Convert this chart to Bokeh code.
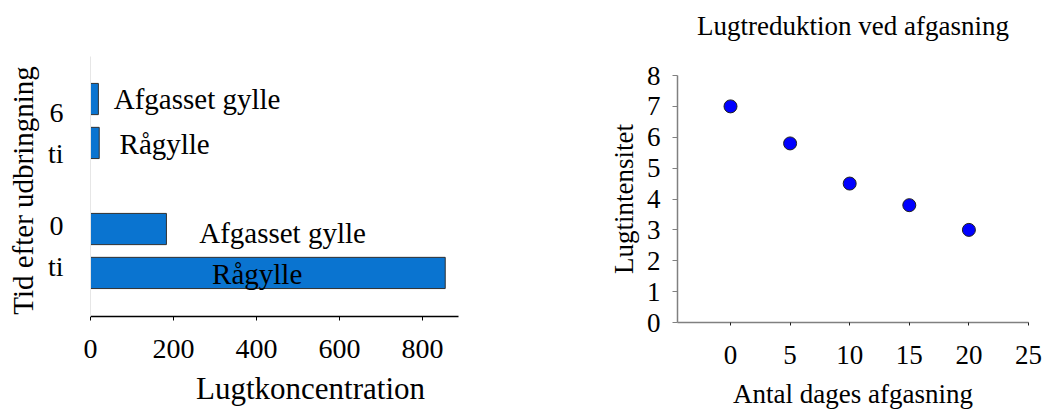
import math
from bokeh.plotting import figure
from bokeh.layouts import row
from bokeh.models import Range1d, FixedTicker, ColumnDataSource, Label
from bokeh.core.properties import value
from bokeh.embed import file_html
from bokeh.resources import INLINE

# ---------------- data ----------------
# left chart: odour concentration after spreading
time_labels = ["0\nti", "6\nti"]          # category tick labels (bottom -> top)
raagylle = [855, 21]                      # Rågylle
afgasset = [183, 19]                      # Afgasset gylle
series_names = ["Rågylle", "Afgasset gylle"]
x_ticks_left = [0, 200, 400, 600, 800]
x_max_left = 887

# right chart: odour reduction by degassing
days = [0, 5, 10, 15, 20]
intensity = [7.0, 5.8, 4.5, 3.8, 3.0]
x_ticks_right = [0, 5, 10, 15, 20, 25]
y_ticks_right = [0, 1, 2, 3, 4, 5, 6, 7, 8]
x_min_right, x_max_right = -4.45, 25

FONT = "Liberation Serif"
BAR_COLOR = "#0a74d0"
H = 410

# ---------------- left chart (frame = whole canvas, axes at fixed locations) ----
LW = 600
lx0, lx1 = 90, 458          # pixel of x=0 and x=x_max_left
ly0, ly1 = 316, 56          # pixel (from top) of y=0 and y=2
sx = (lx1 - lx0) / x_max_left
sy = (ly0 - ly1) / 2.0
left = figure(width=LW, height=H, output_backend="svg", toolbar_location=None,
              title=None,
              x_range=Range1d(-lx0 / sx, x_max_left + (LW - lx1) / sx),
              y_range=Range1d(-(H - ly0) / sy, 2 + ly1 / sy),
              min_border=0, outline_line_color=None)
left.grid.visible = False
left.background_fill_color = "white"
left.border_fill_color = "white"

offsets = {"Rågylle": 0.335, "Afgasset gylle": 0.673}
bar_h = 0.24
cat_label_pos = [0.545, 1.41]
label_x = {"Rågylle": [293, 70], "Afgasset gylle": [262, 56]}
label_dy = {"Rågylle": [-0.005, -0.008], "Afgasset gylle": [-0.027, 0.002]}

for name, vals in zip(series_names, [raagylle, afgasset]):
    ys = [i + offsets[name] for i in range(len(vals))]
    src = ColumnDataSource(dict(y=ys, right=vals, left=[0] * len(vals)))
    left.hbar(y="y", left="left", right="right", height=bar_h, source=src,
              fill_color=BAR_COLOR, line_color="#303030", line_width=1)
    lsrc = ColumnDataSource(dict(x=label_x[name],
                                 y=[y + d for y, d in zip(ys, label_dy[name])],
                                 t=[name] * len(vals)))
    left.text(x="x", y="y", text="t", source=lsrc, text_font=value(FONT),
              text_font_size="29px", text_baseline="middle", text_align="left",
              text_color="black")

xa = left.xaxis[0]
xa.fixed_location = 0
xa.bounds = (0, x_max_left)
xa.ticker = FixedTicker(ticks=x_ticks_left)
xa.minor_tick_line_color = None
xa.major_tick_out = 4
xa.major_tick_in = 0
xa.axis_line_color = "black"
xa.axis_line_width = 1.5
xa.major_tick_line_color = "black"
xa.major_label_text_font = FONT
xa.major_label_text_font_size = "28px"
xa.major_label_text_color = "black"
xa.major_label_standoff = 19

ya = left.yaxis[0]
ya.fixed_location = 0
ya.bounds = (0, 2)
ya.ticker = FixedTicker(ticks=cat_label_pos)
ya.major_label_overrides = {p: t for p, t in zip(cat_label_pos, time_labels)}
ya.major_tick_line_color = None
ya.minor_tick_line_color = None
ya.axis_line_color = "#e6e6e6"
ya.major_label_text_font = FONT
ya.major_label_text_font_size = "28px"
ya.major_label_text_color = "black"
ya.major_label_text_align = "center"
ya.major_label_text_line_height = 1.33
ya.major_label_standoff = 21

left.add_layout(Label(x=(310 - lx0) / sx, y=-(388 - ly0) / sy,
                      text="Lugtkoncentration", text_font=FONT,
                      text_font_size="31px", text_align="center",
                      text_baseline="middle", text_color="black"))
left.add_layout(Label(x=(22 - lx0) / sx, y=(ly0 - 190) / sy,
                      text="Tid efter udbringning", text_font=FONT, angle=math.pi / 2,
                      text_font_size="29px", text_align="center",
                      text_baseline="middle", text_color="black"))

# ---------------- right chart ----------------
RW = 443
rx0 = 130                   # pixel (local) of x=0
rx1 = 428                   # pixel (local) of x=25
ry0, ry1 = 322, 75          # pixel of y=0 and y=8
rsx = (rx1 - rx0) / 25.0
rsy = (ry0 - ry1) / 8.0
right = figure(width=RW, height=H, output_backend="svg", toolbar_location=None,
               title=None,
               x_range=Range1d(-rx0 / rsx, 25 + (RW - rx1) / rsx),
               y_range=Range1d(-(H - ry0) / rsy, 8 + ry1 / rsy),
               min_border=0, outline_line_color=None)
right.grid.visible = False
right.background_fill_color = "white"
right.border_fill_color = "white"

right.scatter(x=days, y=intensity, size=13, marker="circle",
              fill_color="#0000ff", line_color="#202020", line_width=1)

rx = right.xaxis[0]
rx.fixed_location = 0
rx.bounds = (x_min_right, x_max_right)
rx.ticker = FixedTicker(ticks=x_ticks_right)
rx.minor_tick_line_color = None
rx.major_tick_out = 3
rx.major_tick_in = 0
rx.axis_line_color = "#808080"
rx.axis_line_width = 1.5
rx.major_tick_line_color = "#202020"
rx.major_label_text_font = FONT
rx.major_label_text_font_size = "27px"
rx.major_label_text_color = "black"
rx.major_label_standoff = 20

ry = right.yaxis[0]
ry.fixed_location = x_min_right
ry.bounds = (0, 8)
ry.ticker = FixedTicker(ticks=y_ticks_right)
ry.minor_tick_line_color = None
ry.major_tick_out = 5
ry.major_tick_in = 0
ry.axis_line_color = "#808080"
ry.axis_line_width = 1.5
ry.major_tick_line_color = "#808080"
ry.major_label_text_font = FONT
ry.major_label_text_font_size = "27px"
ry.major_label_text_color = "black"
ry.major_label_standoff = 12

xc = (x_min_right + x_max_right) / 2
right.add_layout(Label(x=xc, y=8 + (ry1 - 25) / rsy,
                       text="Lugtreduktion ved afgasning", text_font=FONT,
                       text_font_size="27px", text_align="center",
                       text_baseline="middle", text_color="black"))
right.add_layout(Label(x=xc, y=-(393 - ry0) / rsy,
                       text="Antal dages afgasning", text_font=FONT,
                       text_font_size="27px", text_align="center",
                       text_baseline="middle", text_color="black"))
right.add_layout(Label(x=(23 - rx0) / rsx, y=(ry0 - 198.5) / rsy,
                       text="Lugtintensitet", text_font=FONT, angle=math.pi / 2,
                       text_font_size="27px", text_align="center",
                       text_baseline="middle", text_color="black"))

layout = row(left, right)
open("out.html", "w").write(file_html(layout, INLINE))
